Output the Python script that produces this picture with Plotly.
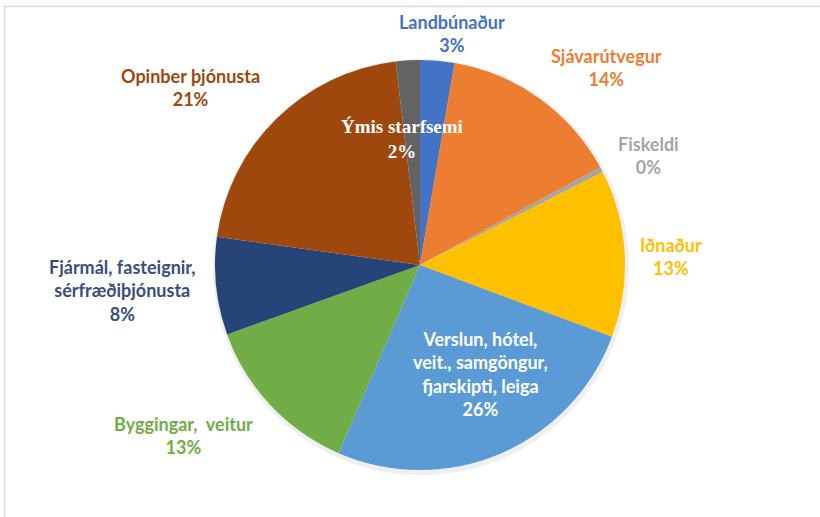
import math
import plotly.graph_objects as go

# ---- data ----
sectors = ["Landbúnaður", "Sjávarútvegur", "Fiskeldi", "Iðnaður",
           "Verslun, hótel,<br>veit., samgöngur,<br>fjarskipti, leiga",
           "Byggingar,  veitur", "Fjármál, fasteignir,<br>sérfræðiþjónusta",
           "Opinber þjónusta", "Ýmis starfsemi"]
shares = [2.7, 14.4, 0.4, 13.2, 25.8, 13.0, 7.7, 20.9, 1.9]

# ---- style ----
slice_colors = ["#4472C4", "#ED7D31", "#A5A5A5", "#FFC000", "#5B9BD5",
                "#70AD47", "#264478", "#9E480E", "#636363"]
label_colors = ["#4472C4", "#ED7D31", "#A5A5A5", "#FFC000", "#FFFFFF",
                "#70AD47", "#3A4E7E", "#9E480E", "#FFFFFF"]
label_fonts = ["Lato"] * 8 + ["Liberation Serif"]
# label placement relative to slice mid-angle: (radius factor, angle nudge deg)
label_place = [(1.14, 3.0), (1.325, 7.6), (1.235, 2.0), (1.225, 1.2),
               (0.607, -5.8), (1.425, 7.4), (1.454, 1.1), (1.415, -7.7),
               (0.621, -4.7)]

W, H = 820, 517
cx, cy, R = 420, 265, 205

# soft shadow behind the pie
sh = 3
fig = go.Figure(go.Pie(
    values=[1], labels=["shadow"], textinfo="none", hoverinfo="skip",
    marker=dict(colors=["#EFEFEF"], line=dict(width=0)),
    domain=dict(x=[(cx + 1 - R - sh) / W, (cx + 1 + R + sh) / W],
                y=[1 - (cy + 2 + R + sh) / H, 1 - (cy + 2 - R - sh) / H]),
    showlegend=False, sort=False,
))

fig.add_trace(go.Pie(
    labels=sectors, values=shares, sort=False, direction="clockwise",
    rotation=0, textinfo="none", hoverinfo="skip",
    marker=dict(colors=slice_colors, line=dict(width=0)),
    domain=dict(x=[(cx - R) / W, (cx + R) / W],
                y=[1 - (cy + R) / H, 1 - (cy - R) / H]),
    showlegend=False,
))

total = sum(shares)
cum = 0.0
annotations = []
for i, (name, v) in enumerate(zip(sectors, shares)):
    mid = (cum + v / 2) / total * 360.0
    cum += v
    rf, nudge = label_place[i]
    a = math.radians(mid + nudge)
    px = cx + rf * R * math.sin(a)
    py = cy - rf * R * math.cos(a)
    pct = round(v / total * 100)
    annotations.append(dict(
        x=px / W, y=1 - py / H, xref="paper", yref="paper",
        text=f"{name}<br>{pct}%", showarrow=False, align="center",
        xanchor="center", yanchor="middle",
        font=dict(family=label_fonts[i], size=18 if i != 8 else 19,
                  color=label_colors[i], weight="bold"),
    ))

fig.update_layout(
    width=W, height=H, margin=dict(l=0, r=0, t=0, b=0),
    paper_bgcolor="white", plot_bgcolor="white",
    annotations=annotations,
    shapes=[
        dict(type="line", xref="paper", yref="paper", x0=4 / W, x1=1,
             y0=1 - 6.5 / H, y1=1 - 6.5 / H, line=dict(color="#D9D9D9", width=1.5)),
        dict(type="line", xref="paper", yref="paper", x0=4.5 / W, x1=4.5 / W,
             y0=0, y1=1 - 6.5 / H, line=dict(color="#D9D9D9", width=1.5)),
    ],
)

fig.write_html("out.html", config={"displayModeBar": False},
               post_script="document.body.style.margin='0';")
